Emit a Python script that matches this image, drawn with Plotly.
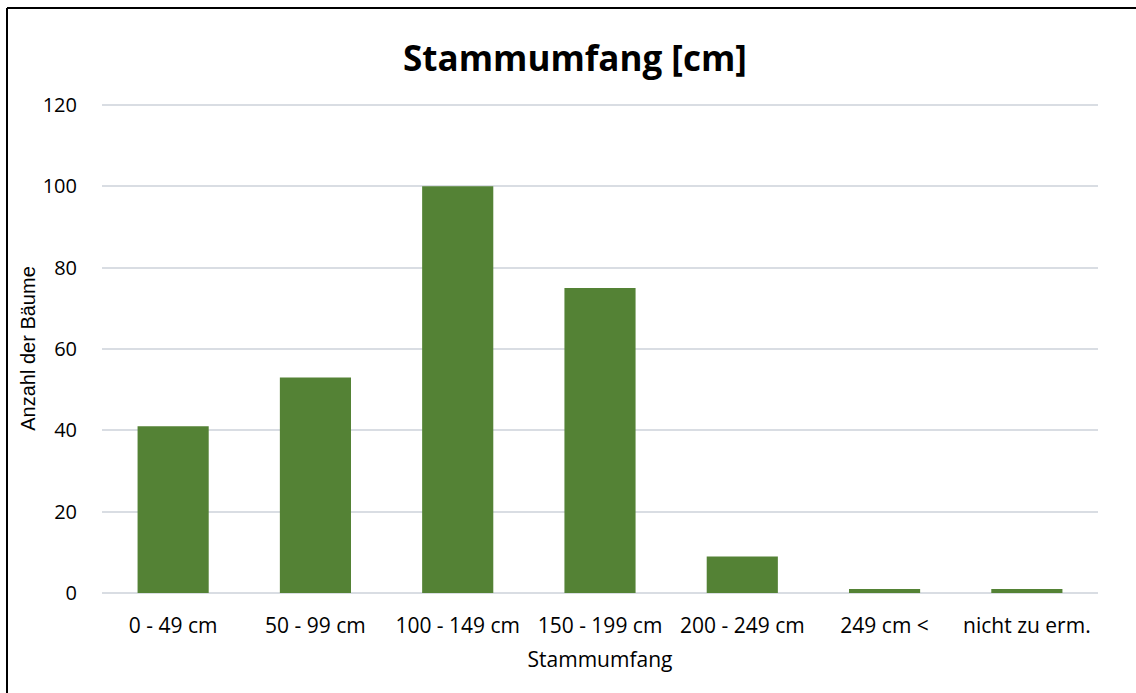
import plotly.graph_objects as go

categories = ["0 - 49 cm", "50 - 99 cm", "100 - 149 cm", "150 - 199 cm", "200 - 249 cm", "249 cm <", "nicht zu erm."]
counts = [41, 53, 100, 75, 9, 1, 1]
y_ticks = [0, 20, 40, 60, 80, 100, 120]

W, H = 1136, 693
Y_TOP = 120.25
px_per_unit = (593 - 105) / 120
L, R = 102, 38
B = H - 593
T = int(round(593 - Y_TOP * px_per_unit))
pw, ph = W - L - R, H - T - B

def px_x(p):
    return (p - L) / pw

def px_y(p):
    return 1 - (p - T) / ph

FONT = "Open Sans"

fig = go.Figure(go.Bar(x=categories, y=counts, marker=dict(color="#548235", line=dict(width=0))))

fig.update_layout(
    width=W, height=H,
    margin=dict(l=L, r=R, t=T, b=B, autoexpand=False),
    paper_bgcolor="white", plot_bgcolor="white",
    bargap=0.5,
    showlegend=False,
    font=dict(family=FONT, size=21, color="#000000"),
    title=dict(text="<b>Stammumfang [cm]</b>", x=575 / W, xanchor="center", y=1 - 59 / H, yanchor="middle",
               font=dict(family=FONT, size=35, color="#000000")),
    xaxis=dict(title=dict(text="Stammumfang", font=dict(size=21), standoff=14),
               automargin=False,
               showgrid=False, showline=False, zeroline=False,
               ticks="outside", ticklen=14, tickcolor="rgba(0,0,0,0)",
               tickfont=dict(size=21)),
    yaxis=dict(title=dict(text="Anzahl der Bäume", font=dict(family="Liberation Sans", size=20), standoff=1),
               automargin=False,
               range=[0, Y_TOP], tickvals=y_ticks, showgrid=True, gridcolor="#d9dde3", gridwidth=1.5,
               zeroline=True, zerolinecolor="#d9dde3", zerolinewidth=1.5, showline=False,
               ticks="outside", ticklen=20, tickcolor="rgba(0,0,0,0)",
               tickfont=dict(size=20)),
    shapes=[
        dict(type="line", xref="paper", yref="paper", x0=px_x(7), x1=px_x(W + 20), y0=px_y(8), y1=px_y(8),
             line=dict(color="black", width=2)),
        dict(type="line", xref="paper", yref="paper", x0=px_x(7), x1=px_x(7), y0=px_y(8), y1=px_y(H + 20),
             line=dict(color="black", width=2)),
    ],
)

fig.write_html("out.html", config={"displayModeBar": False},
               post_script="document.body.style.margin='0';")
